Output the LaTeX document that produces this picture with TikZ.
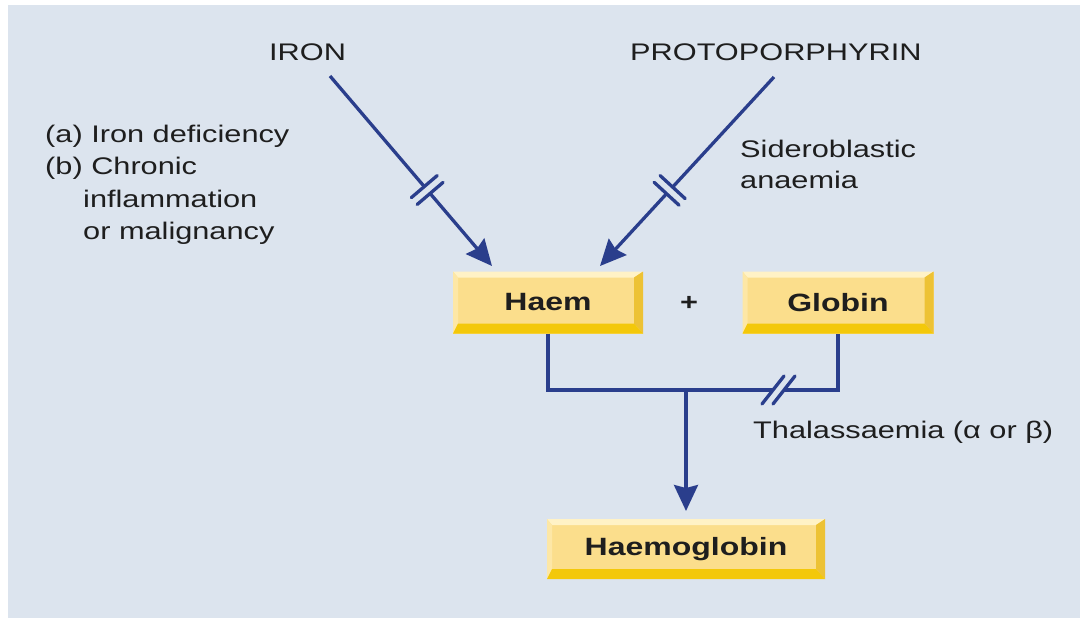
\documentclass[tikz,border=0pt]{standalone}
\usepackage{fontspec}
\setmainfont{Liberation Sans}[FakeStretch=1.28]
\usetikzlibrary{calc,arrows.meta}
\definecolor{bg}{HTML}{DCE4EE}
\definecolor{arr}{HTML}{2A3E8C}
\definecolor{boxfill}{HTML}{FBDE8C}
\definecolor{bevtop}{HTML}{FFF2C6}
\definecolor{bevleft}{HTML}{FDE7A6}
\definecolor{bevright}{HTML}{EDC235}
\definecolor{bevbot}{HTML}{F3C80A}
\definecolor{txt}{HTML}{1E1E1E}
\tikzset{
  bevelbox/.style={minimum height=62pt, inner sep=0pt, fill=boxfill, text=txt,
    font=\fontsize{25}{30}\selectfont\bfseries,
    path picture={
      \coordinate (pNW) at (path picture bounding box.north west);
      \coordinate (pNE) at (path picture bounding box.north east);
      \coordinate (pSW) at (path picture bounding box.south west);
      \coordinate (pSE) at (path picture bounding box.south east);
      \fill[bevtop] (pNW) -- (pNE) -- ($(pNE)+(-9pt,-6pt)$) -- ($(pNW)+(5pt,-6pt)$) -- cycle;
      \fill[bevleft] (pNW) -- ($(pNW)+(5pt,-6pt)$) -- ($(pSW)+(5pt,10pt)$) -- (pSW) -- cycle;
      \fill[bevright] (pNE) -- (pSE) -- ($(pSE)+(-9pt,10pt)$) -- ($(pNE)+(-9pt,-6pt)$) -- cycle;
      \fill[bevbot] (pSW) -- (pSE) -- ($(pSE)+(-9pt,10pt)$) -- ($(pSW)+(5pt,10pt)$) -- cycle;
    }},
  lbl/.style={inner sep=0pt, text=txt, font=\fontsize{24}{29}\selectfont, anchor=base west},
  conn/.style={draw=arr, line width=3.3pt},
  arrowline/.style={conn, -{Stealth[length=26pt,width=24pt,inset=3pt]}},
  brk/.style={draw=arr, line width=3.3pt, line cap=round},
  gap/.style={draw=bg, line width=7pt},
}
\begin{document}
\begin{tikzpicture}[x=1pt,y=-1pt]
\useasboundingbox (0,0) rectangle (1084,622);
\fill[white] (0,0) rectangle (1084,622);
\fill[bg] (8,5) rectangle (1080,618);

% boxes
\node[bevelbox, minimum width=190pt] (haem) at (548,302.5) {Haem};
\node[bevelbox, minimum width=191pt] (globin) at (838,302.5) {Globin};
\node[bevelbox, minimum width=278pt, minimum height=60pt] (hb) at (686,549) {Haemoglobin};
\node[inner sep=0pt, text=txt, font=\fontsize{24}{29}\selectfont\bfseries] (plus) at (689,303) {+};

% labels
\node[lbl] (iron) at (269,60) {IRON};
\node[lbl] (proto) at (630,60) {PROTOPORPHYRIN};
\node[lbl] (la) at (45,142) {(a) Iron deficiency};
\node[lbl] (lb) at (45,174.5) {(b) Chronic};
\node[lbl] (lc) at (83,207) {inflammation};
\node[lbl] (ld) at (83,239) {or malignancy};
\node[lbl] (sa) at (740,157) {Sideroblastic};
\node[lbl] (sb) at (740,188) {anaemia};
\node[lbl] (thal) at (753,438) {Thalassaemia (α or β)};

% iron arrow
\coordinate (ironstart) at (330,76);
\coordinate (irontip) at (492,266);
\draw[arrowline] (ironstart) -- (irontip);
\coordinate (ib) at ($(ironstart)!0.6!(irontip)$);
\coordinate (ib1) at ($(ib)!-4.5pt!(irontip)$);
\coordinate (ib2) at ($(ib)!4.5pt!(irontip)$);
\draw[gap] (ib1) -- (ib2);
\draw[brk] ($(ib1)!17pt!90:(irontip)$) -- ($(ib1)!17pt!-90:(irontip)$);
\draw[brk] ($(ib2)!17pt!90:(irontip)$) -- ($(ib2)!17pt!-90:(irontip)$);

% protoporphyrin arrow
\coordinate (protostart) at (774,77);
\coordinate (prototip) at (600,266);
\draw[arrowline] (protostart) -- (prototip);
\coordinate (pb) at ($(protostart)!0.6!(prototip)$);
\coordinate (pb1) at ($(pb)!-4.5pt!(prototip)$);
\coordinate (pb2) at ($(pb)!4.5pt!(prototip)$);
\draw[gap] (pb1) -- (pb2);
\draw[brk] ($(pb1)!17pt!90:(prototip)$) -- ($(pb1)!17pt!-90:(prototip)$);
\draw[brk] ($(pb2)!17pt!90:(prototip)$) -- ($(pb2)!17pt!-90:(prototip)$);

% joining connector
\coordinate (junc) at (686,390);
\coordinate (hbtip) at (686,511);
\draw[conn] (haem.south) |- (junc) -| (globin.south);
\draw[arrowline] (junc) -- (hbtip);
\draw[gap] (773,390) -- (784,390);
\draw[brk] (762,404) -- (784,376);
\draw[brk] (773,404) -- (795,376);
\end{tikzpicture}
\end{document}
